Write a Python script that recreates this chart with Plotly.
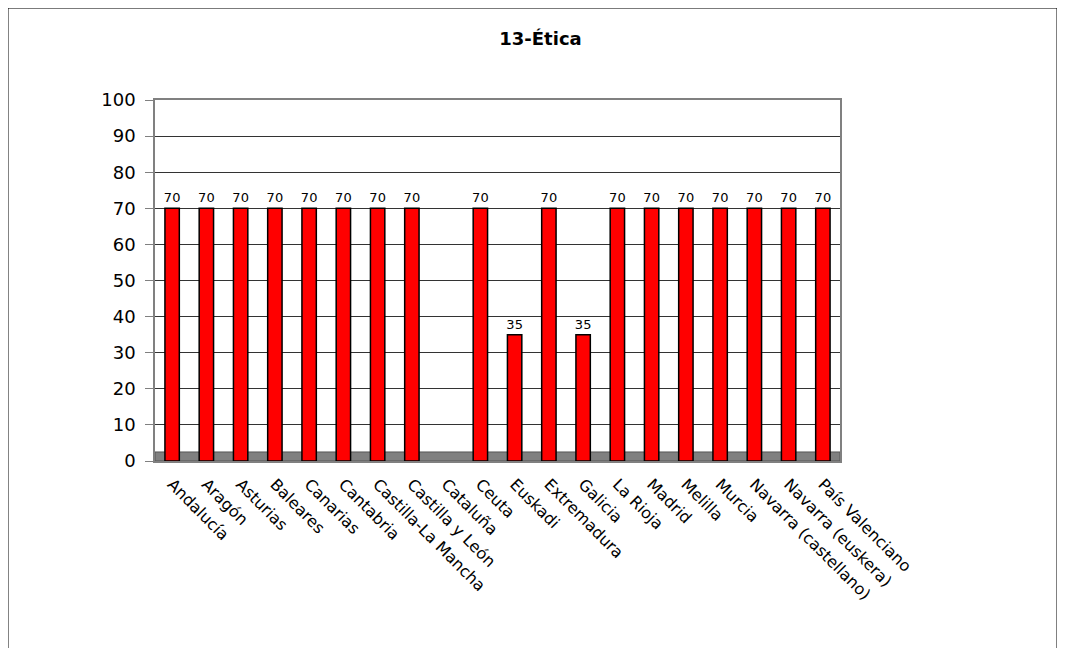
import plotly.graph_objects as go

# Chart data
regiones = ['Andalucía', 'Aragón', 'Asturias', 'Baleares', 'Canarias', 'Cantabria',
            'Castilla-La Mancha', 'Castilla y León', 'Cataluña', 'Ceuta', 'Euskadi',
            'Extremadura', 'Galicia', 'La Rioja', 'Madrid', 'Melilla', 'Murcia',
            'Navarra (castellano)', 'Navarra (euskera)', 'País Valenciano']
horas = [70, 70, 70, 70, 70, 70, 70, 70, None, 70, 35, 70, 35, 70, 70, 70, 70, 70, 70, 70]
y_ticks = list(range(0, 101, 10))

etiquetas = ['' if v is None else str(v) for v in horas]

fig = go.Figure()
fig.add_trace(go.Bar(
    x=regiones, y=horas,
    marker=dict(color='#ff0000', line=dict(color='#000000', width=1.5)),
    width=0.42,
    text=etiquetas, textposition='outside', cliponaxis=False, constraintext='none',
    textfont=dict(family='DejaVu Sans', size=13, color='#000000'),
))

# grey floor and outer frame
fig.add_shape(type='rect', xref='paper', yref='y', x0=0, x1=1, y0=0, y1=2.5,
              fillcolor='#808080', line=dict(color='#555555', width=1), layer='below')
fig.add_shape(type='rect', xref='paper', yref='paper', x0=-0.2146, x1=1.3168, y0=-0.53, y1=1.2548,
              line=dict(color='#000000', width=1), fillcolor='rgba(0,0,0,0)')

fig.update_layout(
    width=1065, height=648,
    margin=dict(l=147, r=233, t=92, b=195),
    paper_bgcolor='white', plot_bgcolor='white',
    showlegend=False,
    title=dict(text='<b>13-Ética</b>', x=0.5, xanchor='center', y=0.952, yanchor='middle',
               font=dict(family='DejaVu Sans', size=18, color='#000000')),
    font=dict(family='DejaVu Sans', color='#000000'),
    bargap=0.58,
)
fig.update_yaxes(range=[0, 100], tickvals=y_ticks, showgrid=True, gridcolor='#333333', gridwidth=1,
                 showline=True, linecolor='#808080', linewidth=1.5, mirror=True,
                 ticks='outside', tickcolor='#808080', ticklen=8, ticklabelstandoff=6,
                 tickfont=dict(size=18), zeroline=False)
fig.update_xaxes(tickangle=45, tickfont=dict(size=16), showline=True, linecolor='#808080',
                 linewidth=1.5, mirror=True, ticks='', showgrid=False, ticklabelstandoff=6)

fig.write_html("out.html")
